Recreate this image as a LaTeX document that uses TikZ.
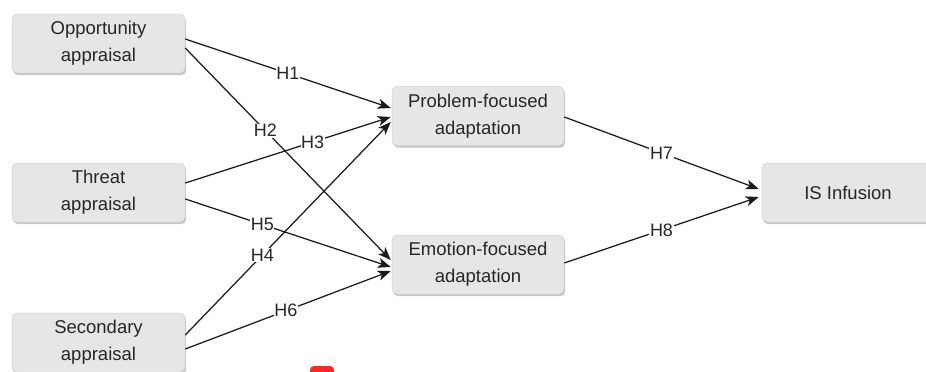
\documentclass[tikz,border=0pt]{standalone}
\usepackage{fontspec}
\setmainfont{Liberation Sans}
\usetikzlibrary{arrows.meta,shadows}
\definecolor{boxfill}{HTML}{E6E6E6}
\definecolor{boxline}{HTML}{D2D2D2}
\definecolor{txt}{HTML}{262626}
\definecolor{lin}{HTML}{1A1A1A}
\begin{document}
\begin{tikzpicture}[x=1pt,y=1pt,
  boxnode/.style={draw=boxline, line width=0.5pt, fill=boxfill, rounded corners=5pt,
    minimum width=173pt, minimum height=59pt, align=center, text=txt,
    font=\fontsize{18.5}{27}\selectfont,
    drop shadow={shadow xshift=1.2pt, shadow yshift=-2.2pt, fill=black, opacity=0.22}},
  conn/.style={draw=lin, line width=1.25pt, -{Stealth[length=13pt,width=10pt,inset=3.5pt]}},
  hlab/.style={fill=white, inner sep=0.6pt, text=txt, font=\fontsize{18}{18}\selectfont}]
\useasboundingbox (0,-372) rectangle (926,0);
\fill[white] (0,-372) rectangle (926,0);

\node[boxnode] (opp) at (98.5,-43.5) {Opportunity\\appraisal};
\node[boxnode] (thr) at (98.5,-192.5) {Threat\\appraisal};
\node[boxnode] (sec) at (98.5,-342.5) {Secondary\\appraisal};
\node[boxnode, minimum width=172pt] (prb) at (478,-116) {Problem-focused\\adaptation};
\node[boxnode, minimum width=172pt] (emo) at (478,-264.5) {Emotion-focused\\adaptation};
\node[boxnode, minimum width=172pt] (isi) at (848,-192.5) {IS Infusion};

\draw[conn] ([yshift=4.5pt]opp.east) -- node[hlab, pos=0.5] {H1} ([xshift=-1pt,yshift=8pt]prb.west);
\draw[conn] ([yshift=-4.5pt]opp.east) -- node[hlab, pos=0.39] {H2} ([xshift=-1pt,yshift=4.5pt]emo.west);
\draw[conn] ([yshift=9.5pt]thr.east) -- node[hlab, pos=0.62] {H3} ([xshift=-1pt,yshift=-1pt]prb.west);
\draw[conn] ([yshift=-6.5pt]thr.east) -- node[hlab, pos=0.375] {H5} ([xshift=-1pt,yshift=-2.5pt]emo.west);
\draw[conn] ([yshift=7.5pt]sec.east) -- node[hlab, pos=0.375] {H4} ([xshift=-1pt,yshift=-6pt]prb.west);
\draw[conn] ([yshift=-6.5pt]sec.east) -- node[hlab, pos=0.49] {H6} ([xshift=-1pt,yshift=-6.5pt]emo.west);
\draw[conn] ([yshift=-1pt]prb.east) -- node[hlab, pos=0.5] {H7} ([xshift=-3pt,yshift=3.5pt]isi.west);
\draw[conn] ([yshift=1.5pt]emo.east) -- node[hlab, pos=0.5] {H8} ([xshift=-3pt,yshift=-4.5pt]isi.west);

\fill[red!85!white, rounded corners=4pt] (310,-366) rectangle (334,-384);
\end{tikzpicture}
\end{document}
